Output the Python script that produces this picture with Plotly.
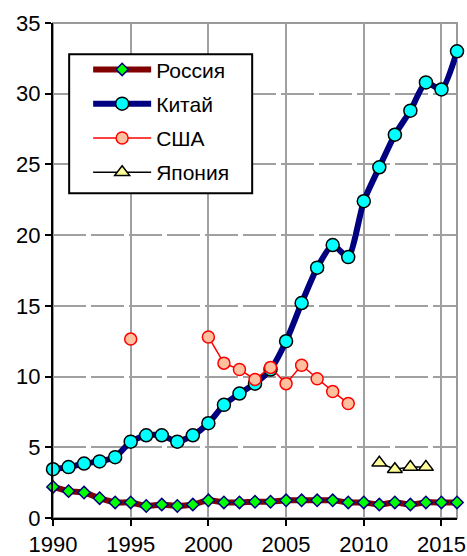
import plotly.graph_objects as go

years = list(range(1990, 2017))

russia = [2.2, 1.9, 1.8, 1.4, 1.1, 1.1, 0.85, 0.95, 0.85, 0.95, 1.25, 1.1, 1.1, 1.15,
          1.15, 1.25, 1.25, 1.25, 1.25, 1.1, 1.1, 0.95, 1.1, 0.95, 1.1, 1.1, 1.1]
china = [3.45, 3.6, 3.85, 4.0, 4.3, 5.4, 5.85, 5.85, 5.4, 5.85, 6.7, 8.0, 8.8, 9.5,
         10.5, 12.5, 15.2, 17.7, 19.3, 18.45, 22.4, 24.8, 27.1, 28.8, 30.8, 30.3, 33.0]
usa = [None, None, None, None, None, 12.65, None, None, None, None, 12.8, 10.95, 10.5,
       9.8, 10.65, 9.5, 10.8, 9.85, 8.95, 8.1, None, None, None, None, None, None, None]
japan = [None] * 21 + [3.9, 3.45, 3.6, 3.6, None, None]

names = ["Россия", "Китай", "США", "Япония"]
x_ticks = [1990, 1995, 2000, 2005, 2010, 2015]
y_ticks = [0, 5, 10, 15, 20, 25, 30, 35]

fig = go.Figure()

fig.add_trace(go.Scatter(
    x=years, y=russia, name=names[0], mode="lines+markers", legendgroup="a",
    line=dict(color="#800000", width=6, shape="spline", smoothing=0.6),
    marker=dict(symbol="diamond", size=9.5, color="#00FF00",
                line=dict(color="#000080", width=1.5)),
))
fig.add_trace(go.Scatter(
    x=years, y=china, name=names[1], mode="lines+markers", legendgroup="b",
    line=dict(color="#000080", width=6, shape="spline", smoothing=0.6),
    marker=dict(symbol="circle", size=13, color="#00FFFF",
                line=dict(color="#000000", width=1.5)),
))
fig.add_trace(go.Scatter(
    x=years, y=usa, name=names[2], mode="lines+markers", legendgroup="c",
    connectgaps=False,
    line=dict(color="#FF0000", width=1.5),
    marker=dict(symbol="circle", size=12, color="#FFC09F",
                line=dict(color="#FF0000", width=1.5)),
))
fig.add_trace(go.Scatter(
    x=years, y=japan, name=names[3], mode="lines+markers", legendgroup="d",
    line=dict(color="#000000", width=1.5),
    marker=dict(symbol="triangle-up", size=13, color="#FFFF99",
                line=dict(color="#000000", width=1.5)),
))

fig.update_traces(cliponaxis=False)

# grey frame along the top and right of the plot area
fig.add_shape(type="rect", xref="paper", yref="paper", x0=0, y0=0, x1=1, y1=1,
              line=dict(color="#999999", width=2), layer="below")
# white legend panel with a black border
fig.add_shape(type="rect", xref="paper", yref="paper",
              x0=0.04, x1=0.493, y0=0.656, y1=0.937,
              line=dict(color="black", width=2), fillcolor="white", layer="above")

fig.update_layout(
    width=467, height=556,
    margin=dict(l=53, r=10, t=23, b=38, autoexpand=False),
    paper_bgcolor="white", plot_bgcolor="white",
    font=dict(family="Liberation Sans, Arial, sans-serif", size=22, color="black"),
    showlegend=True,
    legend=dict(
        x=0.087, y=0.947, xanchor="left", yanchor="top",
        bgcolor="rgba(0,0,0,0)", borderwidth=0,
        font=dict(size=21), itemwidth=58, tracegroupgap=4,
    ),
    xaxis=dict(
        range=[1990, 2016], tickvals=x_ticks, ticktext=[str(v) for v in x_ticks],
        showgrid=True, gridcolor="#A0A0A0", gridwidth=2,
        showline=True, linecolor="black", linewidth=2,
        ticks="outside", ticklen=6, tickwidth=2, tickcolor="black",
        zeroline=False, automargin=False,
    ),
    yaxis=dict(
        range=[0, 35], tickvals=y_ticks,
        showgrid=True, gridcolor="#A0A0A0", gridwidth=2, griddash="33px,5px",
        showline=True, linecolor="black", linewidth=2,
        ticks="outside", ticklen=6, tickwidth=2, tickcolor="black",
        zeroline=False, automargin=False,
    ),
)

fig.write_html("out.html")
